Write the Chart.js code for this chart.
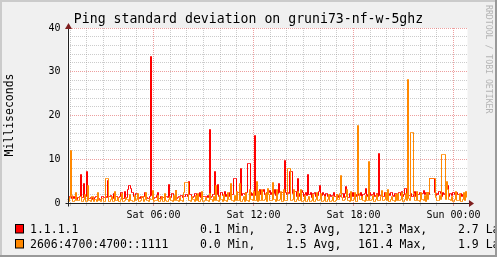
<!DOCTYPE html>
<html>
<head>
<meta charset="utf-8">
<script src="https://cdn.jsdelivr.net/npm/chart.js@4.4.1/dist/chart.umd.min.js"></script>
<style>
  html, body { margin: 0; padding: 0; background: #f0f0f0; }
  canvas { display: block; }
</style>
</head>
<body>
<canvas id="graph" width="497" height="257"></canvas>
<script>
const chartTitle = 'Ping standard deviation on gruni73-nf-w-5ghz';
const yAxisTitle = 'Milliseconds';
const watermark = 'RRDTOOL / TOBI OETIKER';

// time axis: hours after Sat 00:00, one sample per pixel column
const startHour = 0.84;
const stepHours = 0.06;
const hourTicks = [1, 2, 3, 4, 5, 6, 7, 8, 9, 10, 11, 12, 13, 14, 15, 16, 17, 18, 19, 20, 21, 22, 23, 24];
const tickLabels = { 6: 'Sat 06:00', 12: 'Sat 12:00', 18: 'Sat 18:00', 24: 'Sun 00:00' };

const seriesNames = ['1.1.1.1', '2606:4700:4700::1111'];
const seriesColors = ['#ff0000', '#ff8800'];
const legendMin = ['0.1 Min,', '0.0 Min,'];
const legendAvg = ['2.3 Avg,', '1.5 Avg,'];
const legendMax = ['121.3 Max,', '161.4 Max,'];
const legendLast = ['2.7 Last', '1.9 Last'];

// std deviation in ms
const red = [
  0.9, 0.9, 1.6, 1.6, 1.0, 1.0, 1.4, 1.1, 1.1, 0.8,
  1.2, 1.2, 1.5, 6.6, 1.3, 1.3, 4.5, 1.4, 1.4, 7.1,
  1.6, 1.0, 1.0, 1.3, 1.3, 0.8, 0.8, 1.2, 1.4, 1.4,
  1.1, 1.1, 0.9, 0.9, 1.6, 1.6, 1.2, 1.2, 1.5, 1.3,
  5.2, 1.4, 1.4, 1.8, 1.0, 1.0, 2.2, 2.2, 1.5, 1.5,
  1.2, 1.2, 1.6, 2.3, 2.3, 1.1, 1.1, 2.6, 1.3, 1.3,
  3.2, 3.9, 3.9, 3.4, 2.4, 2.4, 1.5, 1.4, 2.1, 2.1,
  1.3, 1.3, 1.1, 1.6, 1.6, 1.2, 1.4, 2.5, 1.2, 1.2,
  1.1, 1.1, 1.4, 33.4, 1.8, 1.8, 1.0, 1.3, 1.3, 1.7,
  2.4, 1.1, 1.1, 1.6, 1.6, 1.2, 1.2, 1.5, 1.4, 1.4,
  1.2, 4.3, 1.3, 1.3, 2.2, 2.2, 1.5, 1.5, 2.8, 1.0,
  1.2, 1.4, 1.4, 1.7, 1.7, 1.3, 1.4, 1.4, 1.9, 1.9,
  1.5, 5.0, 1.9, 1.9, 1.3, 1.3, 1.6, 2.2, 2.2, 1.2,
  1.5, 1.5, 2.3, 1.3, 1.3, 1.4, 1.4, 1.6, 1.6, 1.3,
  1.8, 1.2, 16.7, 1.2, 1.4, 2.0, 2.0, 7.3, 1.5, 1.9,
  4.3, 1.6, 1.6, 2.4, 2.4, 1.8, 1.8, 2.6, 1.4, 1.9,
  1.9, 1.6, 2.3, 2.3, 1.9, 1.9, 5.7, 5.7, 5.7, 1.6,
  2.3, 2.3, 2.1, 8.0, 1.8, 2.1, 2.1, 1.9, 2.4, 2.4,
  9.1, 9.1, 9.1, 2.4, 1.7, 2.2, 2.2, 15.4, 1.8, 2.7,
  2.7, 2.2, 3.1, 1.9, 2.6, 2.6, 3.2, 2.0, 2.0, 2.4,
  2.3, 2.3, 2.8, 1.9, 2.5, 2.5, 2.1, 3.0, 1.7, 2.2,
  2.2, 4.4, 2.3, 1.6, 2.5, 2.5, 2.2, 9.8, 2.5, 1.9,
  2.4, 2.1, 7.3, 7.3, 7.3, 2.1, 1.8, 2.6, 2.6, 1.5,
  5.7, 2.2, 1.5, 2.9, 2.9, 2.3, 1.6, 2.0, 2.5, 1.8,
  6.6, 2.0, 2.0, 2.5, 1.3, 2.2, 2.2, 2.4, 1.5, 2.1,
  1.7, 2.6, 4.1, 1.8, 1.8, 2.4, 1.9, 1.5, 2.2, 2.2,
  1.5, 1.5, 2.0, 1.4, 1.8, 1.8, 2.3, 1.6, 1.6, 1.9,
  1.2, 1.7, 1.7, 1.4, 2.1, 2.1, 1.3, 2.2, 3.7, 1.5,
  1.3, 1.3, 2.1, 1.6, 1.6, 2.3, 1.5, 1.5, 1.9, 1.4,
  2.6, 1.8, 1.8, 2.4, 1.5, 1.9, 1.9, 2.2, 3.4, 1.5,
  1.9, 1.9, 2.5, 1.7, 2.0, 2.0, 2.3, 1.6, 1.8, 2.2,
  1.4, 11.4, 1.8, 1.8, 2.2, 1.6, 1.6, 2.4, 1.9, 1.5,
  2.1, 2.1, 1.7, 2.5, 2.5, 1.8, 1.5, 2.2, 2.2, 1.9,
  1.6, 2.3, 2.3, 1.8, 2.6, 1.5, 2.0, 3.4, 3.4, 1.7,
  1.3, 1.8, 1.8, 2.2, 1.4, 1.4, 1.9, 2.6, 1.6, 2.3,
  2.0, 2.0, 2.4, 1.7, 2.2, 2.2, 2.8, 1.9, 2.3, 1.6,
  2.4, 2.0, 5.7, 5.7, 5.7, 5.7, 5.7, 2.4, 1.7, 2.1,
  1.9, 2.6, 2.6, 2.2, 1.5, 2.4, 1.9, 2.1, 1.6, 3.9,
  3.9, 1.5, 2.1, 2.1, 1.8, 2.3, 2.3, 1.9, 1.6, 2.4,
  2.0, 2.0, 1.8, 2.2, 1.5, 1.9, 1.9, 2.1, 1.7, 2.0
];
const orange = [
  0.4, 0.4, 1.2, 11.9, 1.8, 0.3, 0.3, 0.6, 2.3, 0.5,
  0.5, 0.5, 1.4, 1.4, 0.3, 0.3, 0.8, 2.0, 0.4, 0.4,
  4.0, 0.6, 0.6, 0.3, 1.5, 1.5, 0.4, 0.7, 0.7, 0.4,
  2.3, 0.5, 0.5, 0.3, 1.1, 1.1, 0.4, 0.4, 5.5, 5.5,
  5.5, 0.4, 0.4, 0.8, 1.6, 0.3, 0.3, 2.6, 0.5, 0.5,
  1.3, 0.3, 0.3, 0.7, 2.2, 0.4, 0.4, 0.5, 1.3, 0.8,
  0.8, 0.4, 2.0, 0.6, 0.6, 0.3, 0.3, 1.7, 0.5, 0.7,
  2.2, 0.4, 0.4, 0.6, 1.5, 1.5, 0.3, 0.9, 2.4, 0.5,
  0.5, 0.3, 1.1, 0.7, 0.7, 2.8, 0.4, 0.6, 0.6, 0.5,
  1.7, 0.4, 0.4, 0.8, 1.4, 0.3, 0.3, 2.2, 0.6, 0.4,
  0.4, 0.7, 1.6, 0.5, 0.5, 0.3, 1.8, 0.6, 2.9, 0.5,
  0.5, 0.4, 1.2, 0.6, 0.6, 0.3, 2.4, 4.6, 4.6, 4.6,
  4.6, 0.5, 0.5, 0.4, 1.6, 0.7, 0.7, 0.3, 1.8, 0.6,
  2.2, 0.4, 0.4, 0.8, 2.7, 0.3, 0.3, 0.5, 1.3, 0.6,
  0.6, 0.3, 2.1, 0.7, 0.7, 0.4, 1.6, 0.5, 4.0, 0.6,
  0.6, 0.4, 1.7, 0.9, 0.9, 0.3, 2.0, 0.6, 0.6, 0.4,
  2.4, 0.7, 0.7, 4.5, 0.5, 0.5, 0.4, 1.8, 0.6, 2.6,
  0.5, 0.5, 4.5, 0.4, 0.4, 0.8, 1.6, 0.3, 2.5, 0.6,
  0.6, 0.4, 3.0, 0.9, 0.9, 0.5, 2.7, 0.6, 0.6, 4.9,
  0.4, 2.7, 0.6, 0.6, 3.1, 0.5, 0.5, 0.7, 2.2, 0.4,
  3.4, 1.9, 0.6, 0.6, 0.5, 4.6, 0.8, 0.8, 0.4, 3.1,
  0.5, 0.5, 0.7, 2.6, 0.4, 0.4, 3.2, 0.6, 0.6, 0.5,
  7.8, 7.8, 7.8, 0.6, 0.6, 0.8, 3.1, 0.4, 0.4, 0.7,
  2.6, 0.5, 0.5, 3.2, 0.4, 0.4, 0.6, 1.7, 0.3, 0.3,
  0.9, 1.4, 0.4, 0.4, 0.6, 1.9, 0.3, 0.3, 0.7, 2.4,
  0.5, 0.5, 0.8, 2.1, 0.4, 0.4, 0.6, 1.5, 0.3, 0.3,
  0.7, 1.9, 0.4, 0.4, 0.6, 1.4, 0.3, 0.3, 0.5, 2.0,
  0.8, 0.8, 2.2, 6.4, 1.2, 0.5, 0.5, 0.8, 1.6, 3.0,
  0.6, 0.6, 0.4, 2.7, 0.5, 0.5, 0.7, 2.4, 0.3, 0.3,
  17.8, 2.1, 0.7, 0.7, 1.5, 0.6, 0.6, 0.4, 1.8, 0.5,
  0.5, 9.4, 0.6, 0.6, 0.9, 1.8, 0.4, 0.4, 0.7, 1.9,
  0.5, 0.5, 0.6, 1.4, 2.8, 0.5, 0.5, 0.8, 2.4, 0.6,
  3.2, 0.4, 0.4, 0.7, 1.6, 0.5, 0.5, 0.4, 1.9, 0.6,
  2.2, 0.5, 0.5, 0.7, 2.4, 0.4, 0.4, 0.9, 2.1, 0.5,
  28.3, 1.1, 0.6, 16.2, 16.2, 16.2, 2.1, 0.5, 0.5, 2.7,
  0.6, 0.6, 0.4, 2.5, 0.7, 0.7, 0.5, 1.8, 0.3, 2.4,
  0.7, 2.4, 5.7, 5.7, 5.7, 5.7, 5.7, 5.7, 1.3, 0.6,
  0.6, 0.5, 1.7, 0.8, 11.2, 11.2, 11.2, 11.2, 0.9, 5.0,
  3.1, 0.8, 0.8, 0.5, 1.6, 0.4, 0.4, 0.7, 2.6, 0.5,
  0.5, 0.6, 2.2, 0.4, 0.4, 0.8, 2.3, 0.5, 2.7, 1.2
];

const sampleHours = red.map((_, i) => startHour + stepHours * i);

const GRID = 'rgba(143, 143, 143, 0.45)';
const MGRID = 'rgba(222, 80, 80, 0.55)';
const MONO = '"DejaVu Sans Mono", monospace';

// snap the step lines onto pixel centres so 1px lines stay crisp like rrdtool
const crispSteps = {
    id: 'crispSteps',
    beforeDatasetDraw(chart, args) {
        args.meta.data.forEach(p => {
            p.x = Math.round(p.x - 0.5) + 0.5;
            p.y = Math.round(p.y - 0.5) + 0.5;
        });
    }
};

const rrdFrame = {
    id: 'rrdFrame',
    beforeDraw(chart) {
        const { ctx, chartArea: a, width, height } = chart;
        ctx.save();
        ctx.fillStyle = '#f0f0f0';
        ctx.fillRect(0, 0, width, height);
        ctx.fillStyle = '#ffffff';
        ctx.fillRect(a.left, a.top, a.right - a.left, a.bottom - a.top);
        ctx.restore();
    },
    afterDatasetsDraw(chart) {
        const { ctx, chartArea: a } = chart;
        const bx = Math.round(a.left) + 0.5;
        const by = Math.round(a.bottom) + 0.5;
        ctx.save();
        ctx.strokeStyle = '#1f1f1f';
        ctx.lineWidth = 1;
        ctx.beginPath();
        ctx.moveTo(bx - 3, by);
        ctx.lineTo(a.right + 2, by);
        ctx.moveTo(bx, by + 3);
        ctx.lineTo(bx, a.top - 2);
        ctx.stroke();
        // arrows
        ctx.fillStyle = '#7f1f1f';
        ctx.beginPath();
        ctx.moveTo(a.right + 1.5, by - 3.5);
        ctx.lineTo(a.right + 6.5, by);
        ctx.lineTo(a.right + 1.5, by + 3.5);
        ctx.closePath();
        ctx.fill();
        ctx.beginPath();
        ctx.moveTo(bx - 3.5, a.top + 1);
        ctx.lineTo(bx, a.top - 5);
        ctx.lineTo(bx + 3.5, a.top + 1);
        ctx.closePath();
        ctx.fill();
        ctx.restore();
    },
    afterDraw(chart) {
        const { ctx, width, height } = chart;
        ctx.save();
        ctx.fillStyle = '#000';
        ctx.textBaseline = 'alphabetic';

        ctx.font = '13.2px ' + MONO;
        ctx.textAlign = 'center';
        ctx.fillText(chartTitle, width / 2, 23);

        ctx.save();
        ctx.translate(10.5, 115);
        ctx.rotate(-Math.PI / 2);
        ctx.font = '11.5px ' + MONO;
        ctx.textBaseline = 'middle';
        ctx.fillText(yAxisTitle, 0, 0);
        ctx.restore();

        ctx.save();
        ctx.translate(488, 5);
        ctx.rotate(Math.PI / 2);
        ctx.font = '8.2px ' + MONO;
        ctx.textAlign = 'left';
        ctx.textBaseline = 'middle';
        ctx.fillStyle = '#b4b4b4';
        ctx.fillText(watermark, 0, 0);
        ctx.restore();

        ctx.font = '11.5px ' + MONO;
        ctx.textAlign = 'left';
        const rows = [233, 248];
        seriesNames.forEach((name, i) => {
            const y = rows[i];
            ctx.fillStyle = seriesColors[i];
            ctx.fillRect(15.5, y - 8.5, 8, 8.5);
            ctx.strokeStyle = '#000';
            ctx.lineWidth = 1;
            ctx.strokeRect(15.5, y - 8.5, 8, 8.5);
            ctx.fillStyle = '#000';
            ctx.fillText(name, 30, y);
            ctx.fillText(legendMin[i], 200, y);
            ctx.fillText(legendAvg[i], 286, y);
            ctx.fillText(legendMax[i], 358, y);
            ctx.fillText(legendLast[i], 458, y);
        });

        // 3d frame round the image
        ctx.fillStyle = '#cbcbcb';
        ctx.fillRect(0, 0, width, 2);
        ctx.fillRect(0, 0, 2, height);
        ctx.fillStyle = '#999999';
        ctx.fillRect(0, height - 2, width, 2);
        ctx.fillRect(width - 2, 0, 2, height);
        ctx.restore();
    }
};

const ctx = document.getElementById('graph').getContext('2d');
new Chart(ctx, {
    type: 'line',
    data: {
        labels: sampleHours,
        datasets: [
            {
                label: seriesNames[0],
                data: red,
                borderColor: seriesColors[0],
                borderWidth: 1,
                pointRadius: 0,
                stepped: true,
                fill: false,
                order: 1
            },
            {
                label: seriesNames[1],
                data: orange,
                borderColor: seriesColors[1],
                borderWidth: 1,
                pointRadius: 0,
                stepped: true,
                fill: false,
                order: 0
            }
        ]
    },
    options: {
        responsive: false,
        animation: false,
        devicePixelRatio: 1,
        layout: { padding: { top: 28, right: 29.5, left: 0, bottom: 0 } },
        plugins: {
            legend: { display: false },
            title: { display: false },
            tooltip: { enabled: false }
        },
        scales: {
            x: {
                type: 'linear',
                min: startHour,
                max: startHour + 24,
                afterFit: s => { s.height = 54; },
                afterBuildTicks: s => { s.ticks = hourTicks.map(h => ({ value: h })); },
                grid: {
                    color: c => (c.tick && c.tick.value % 6 === 0) ? MGRID : GRID,
                    tickColor: c => (c.tick && c.tick.value % 6 === 0) ? MGRID : GRID,
                    tickLength: 3,
                    tickBorderDash: []
                },
                border: { display: false, dash: [1, 1] },
                ticks: {
                    autoSkip: false,
                    maxRotation: 0,
                    padding: 3,
                    color: '#000',
                    font: { family: MONO, size: 10 },
                    callback: v => tickLabels[v] || ''
                }
            },
            y: {
                min: 0,
                max: 40,
                afterFit: s => { s.width = 67.5; },
                grid: {
                    color: c => (c.tick && c.tick.value % 10 === 0) ? MGRID : GRID,
                    drawTicks: false
                },
                border: { display: false, dash: [1, 1] },
                ticks: {
                    stepSize: 2,
                    maxTicksLimit: 30,
                    autoSkip: false,
                    padding: 7,
                    color: '#000',
                    font: { family: MONO, size: 10 },
                    callback: v => (v % 10 === 0 ? v : '')
                }
            }
        }
    },
    plugins: [crispSteps, rrdFrame]
});
</script>
</body>
</html>
